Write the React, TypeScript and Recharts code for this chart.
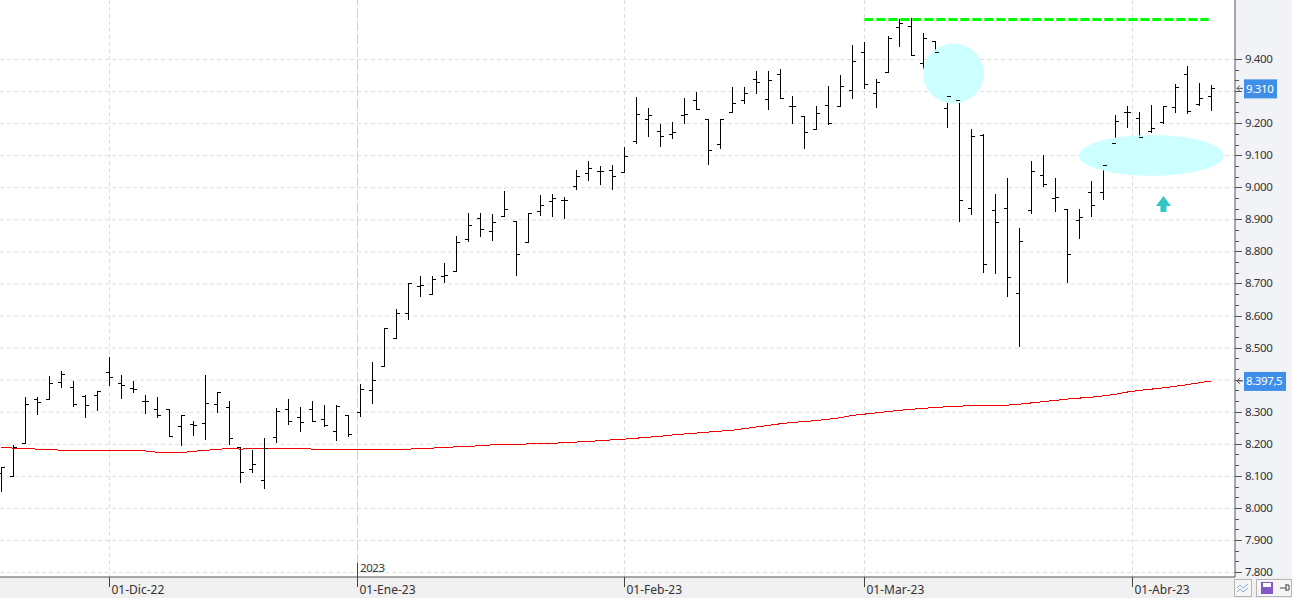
import React from 'react';
import {
  ComposedChart,
  Bar,
  Line,
  XAxis,
  YAxis,
  CartesianGrid,
  ReferenceDot,
  ReferenceLine,
} from 'recharts';

const opens = [8109, 8100, 8203, 8340, 8340, 8393, 8377, 8349, 8352, 8424, 8390, 8373, 8334, 8309, 8309, 8256, 8261, 8265, 8324, 8315, 8190, 8121, 8086, 8221, 8309, 8284, 8309, 8277, 8240, 8290, 8299, 8368, 8443, 8530, 8608, 8692, 8667, 8724, 8739, 8839, 8905, 8864, 8911, 8894, 8830, 8926, 8957, 8961, 9005, 9045, 9051, 9054, 9048, 9145, 9214, 9176, 9166, 9226, 9273, 9214, 9135, 9235, 9273, 9338, 9276, 9354, 9254, 9221, 9182, 9257, 9253, 9304, 9423, 9295, 9360, 9501, 9504, 9388, 9457, 9248, 9273, 8935, 9163, 8929, 8935, 8670, 8929, 9038, 8967, 8932, 8898, 8985, 8985, 9138, 9234, 9217, 9176, 9204, 9251, 9354, 9260, 9285];
const highs = [8128, 8199, 8346, 8346, 8412, 8428, 8397, 8355, 8366, 8472, 8416, 8396, 8355, 8346, 8309, 8292, 8271, 8416, 8362, 8334, 8193, 8181, 8218, 8312, 8340, 8315, 8334, 8321, 8321, 8290, 8387, 8456, 8561, 8621, 8702, 8725, 8724, 8764, 8851, 8921, 8921, 8917, 8989, 8894, 8920, 8977, 8980, 8970, 9056, 9083, 9067, 9070, 9126, 9283, 9248, 9198, 9204, 9280, 9298, 9214, 9215, 9313, 9313, 9363, 9363, 9370, 9285, 9223, 9254, 9317, 9351, 9445, 9454, 9338, 9473, 9526, 9529, 9482, 9457, 9298, 9273, 9183, 9169, 8982, 9029, 8873, 9085, 9101, 9029, 8932, 8935, 9020, 9076, 9227, 9254, 9236, 9257, 9254, 9323, 9379, 9326, 9320];
const lows = [8049, 8100, 8201, 8289, 8340, 8376, 8317, 8283, 8305, 8383, 8342, 8358, 8295, 8280, 8223, 8195, 8223, 8214, 8298, 8196, 8080, 8108, 8058, 8202, 8258, 8236, 8267, 8251, 8208, 8221, 8283, 8326, 8443, 8527, 8588, 8660, 8667, 8701, 8738, 8830, 8847, 8832, 8911, 8725, 8830, 8910, 8907, 8902, 8994, 9022, 9009, 8993, 9048, 9135, 9156, 9125, 9150, 9200, 9245, 9069, 9122, 9232, 9259, 9292, 9241, 9276, 9197, 9119, 9179, 9194, 9251, 9278, 9306, 9247, 9360, 9440, 9409, 9369, 9387, 9185, 8894, 8916, 8735, 8732, 8657, 8501, 8919, 9000, 8922, 8703, 8841, 8909, 8962, 9135, 9185, 9135, 9170, 9198, 9232, 9229, 9253, 9238];
const closes = [8128, 8190, 8325, 8331, 8390, 8418, 8323, 8321, 8365, 8409, 8384, 8370, 8334, 8290, 8224, 8290, 8258, 8327, 8361, 8218, 8112, 8137, 8187, 8302, 8271, 8268, 8270, 8258, 8318, 8231, 8371, 8399, 8561, 8608, 8702, 8695, 8714, 8727, 8830, 8883, 8870, 8892, 8933, 8792, 8920, 8945, 8967, 8959, 9036, 9061, 9051, 9036, 9098, 9230, 9226, 9160, 9173, 9229, 9245, 9117, 9213, 9263, 9295, 9329, 9335, 9279, 9253, 9173, 9232, 9201, 9317, 9395, 9322, 9329, 9466, 9513, 9413, 9466, 9423, 9285, 8960, 9160, 8761, 8892, 8720, 8832, 9051, 9010, 8970, 8792, 8907, 8945, 9070, 9207, 9234, 9158, 9186, 9254, 9314, 9238, 9279, 9310];
const movingAvg = [8190, 8188, 8186, 8185, 8185, 8181, 8179, 8179, 8179, 8179, 8179, 8179, 8179, 8175, 8174, 8174, 8178, 8181, 8184, 8187, 8185, 8186, 8187, 8187, 8187, 8187, 8185, 8184, 8184, 8184, 8184, 8184, 8184, 8184, 8185, 8186, 8188, 8190, 8192, 8193, 8196, 8198, 8199, 8200, 8201, 8202, 8203, 8205, 8207, 8209, 8211, 8214, 8216, 8219, 8222, 8225, 8229, 8232, 8235, 8238, 8241, 8244, 8249, 8254, 8259, 8264, 8268, 8271, 8274, 8278, 8283, 8290, 8294, 8298, 8302, 8306, 8309, 8312, 8315, 8317, 8319, 8320, 8321, 8321, 8322, 8325, 8329, 8333, 8337, 8341, 8344, 8347, 8351, 8356, 8363, 8368, 8372, 8376, 8381, 8386, 8392, 8397.5];

const monthSlots = [9, 29.67, 51.92, 71.92, 94.25];
const monthLabels = ['01-Dic-22', '01-Ene-23', '01-Feb-23', '01-Mar-23', '01-Abr-23'];
const gridSlots = [9, 51.92, 71.92, 94.25];
const yearSlot = 29.67;
const priceLabels = [7800, 7900, 8000, 8100, 8200, 8300, 8400, 8500, 8600, 8700, 8800, 8900, 9000, 9100, 9200, 9300, 9400];
// these two sit under the price tags, the platform leaves them out
const hiddenLabels = [8400, 9300];

const resistance = 9525;
const lastPrice = 9310;
const lastAvg = 8397.5;

// the platform loses a pixel of bar spacing at these two sessions
const slotOf = (i: number) => i - (i >= 20 ? 1 / 12 : 0) - (i >= 75 ? 1 / 12 : 0);

const bars = opens.map((open, i) => ({
  slot: slotOf(i),
  open,
  range: [lows[i], highs[i]],
  close: closes[i],
  avg: movingAvg[i],
}));

const yTicks: number[] = [];
for (let k = 0; k <= 48; k++) yTicks.push(7800 + (k * 100) / 3);

const WIDTH = 1292;
const HEIGHT = 598;
const AXIS_X = 1235;
const AXIS_Y = 577;
const FONT = '"Noto Sans", sans-serif';
const X_MIN = -0.125;
const X_MAX = 102.79;

const Wick = (p: any) => (
  <rect x={Math.floor(p.x + p.width / 2)} y={Math.round(p.y)} width={1} height={Math.round(p.height)} fill="#000" />
);

const OpenTick = (p: any) => (
  <rect key={p.index} x={Math.floor(p.cx) - 3} y={Math.floor(p.cy)} width={4} height={1} fill="#000" />
);

const CloseTick = (p: any) => (
  <rect key={p.index} x={Math.floor(p.cx)} y={Math.floor(p.cy)} width={4} height={1} fill="#000" />
);

const PriceTick = (p: any) => {
  const v = Math.round(p.payload.value);
  const major = priceLabels.indexOf(v) >= 0;
  return (
    <g>
      <line x1={AXIS_X} x2={AXIS_X + (major ? 7 : 4)} y1={Math.floor(p.y) + 0.5} y2={Math.floor(p.y) + 0.5} stroke="#555" />
      {major && hiddenLabels.indexOf(v) < 0 && (
        <text x={AXIS_X + 10} y={p.y + 3.5} fontSize={11.5} letterSpacing={-0.4} fontFamily={FONT} fill="#333">
          {v.toLocaleString('de-DE')}
        </text>
      )}
    </g>
  );
};

const MonthTick = (p: any) => {
  const x = Math.floor(p.x) + 0.5;
  return (
    <g>
      <line x1={x} x2={x} y1={AXIS_Y} y2={AXIS_Y + 10} stroke="#444" />
      <text x={x + 2} y={AXIS_Y + 17} fontSize={12} fontFamily={FONT} fill="#333">
        {monthLabels[p.index]}
      </text>
    </g>
  );
};

const PriceTag = ({ cx, cy, w, text }: any) => (
  <g>
    <path d={`M${cx + 2} ${cy}H${cx + 8}M${cx + 5} ${cy - 3}L${cx + 2} ${cy}L${cx + 5} ${cy + 3}`} stroke="#555" fill="none" />
    <rect x={cx + 9} y={cy - 9} width={w} height={19} fill="#3f8fe8" />
    <text x={cx + 11} y={cy + 4.5} fontSize={11.5} letterSpacing={-0.4} fontFamily={FONT} fill="#fff">
      {text}
    </text>
  </g>
);

const Blob = ({ cx, cy, rx, ry }: any) => <ellipse cx={cx} cy={cy} rx={rx} ry={ry} fill="#ccffff" />;

const UpArrow = ({ cx, cy }: any) => (
  <path
    d={`M${cx} ${cy - 8}L${cx + 7.5} ${cy + 2}H${cx + 3}V${cy + 8}H${cx - 3}V${cy + 2}H${cx - 7.5}Z`}
    fill="#33c6c6"
  />
);

export default function App() {
  return (
    <div style={{ position: 'absolute', left: 0, top: 0, width: WIDTH, height: HEIGHT, background: '#f0f0f0', overflow: 'hidden' }}>
      <div style={{ position: 'absolute', left: 0, top: 0, width: AXIS_X, height: AXIS_Y, background: '#fff' }} />
      <div style={{ position: 'absolute', left: AXIS_X, top: 0, width: WIDTH - AXIS_X, height: AXIS_Y, background: '#f2f3f7' }} />
      <div style={{ position: 'absolute', left: 0, top: 0 }}>
        <ComposedChart
          width={WIDTH}
          height={HEIGHT}
          data={bars}
          margin={{ top: 0, right: 0, bottom: 0, left: 0 }}
        >
          <ReferenceDot x={79.33} y={9356} r={30} ifOverflow="visible" shape={(p: any) => <Blob {...p} rx={30.5} ry={30} />} />
          <ReferenceDot x={95.82} y={9101} r={30} ifOverflow="visible" shape={(p: any) => <Blob {...p} rx={72} ry={20.5} />} />
          <CartesianGrid
            stroke="#dedede"
            strokeDasharray="4 3"
            horizontalValues={priceLabels}
            verticalValues={gridSlots}
          />
          <ReferenceLine x={yearSlot} stroke="#cfcfcf" strokeDasharray="10 3" />
          <XAxis
            type="number"
            dataKey="slot"
            domain={[X_MIN, X_MAX]}
            ticks={monthSlots}
            interval={0}
            height={HEIGHT - AXIS_Y}
            axisLine={{ stroke: '#555' }}
            tickLine={false}
            tick={MonthTick}
            allowDataOverflow
          />
          <YAxis
            orientation="right"
            domain={[7786, 9585.6]}
            ticks={yTicks}
            interval={0}
            width={WIDTH - AXIS_X}
            axisLine={{ stroke: '#555' }}
            tickLine={false}
            tick={PriceTick}
            allowDataOverflow
          />
          <Bar dataKey="range" barSize={1} shape={Wick} isAnimationActive={false} />
          <Line dataKey="open" stroke="none" dot={OpenTick} activeDot={false} isAnimationActive={false} />
          <Line dataKey="close" stroke="none" dot={CloseTick} activeDot={false} isAnimationActive={false} />
          <Line dataKey="avg" stroke="#f00000" strokeWidth={1} shapeRendering="crispEdges" dot={false} activeDot={false} isAnimationActive={false} />
          <ReferenceLine
            segment={[{ x: 71.9, y: resistance }, { x: 100.6, y: resistance }]}
            stroke="#00ff00"
            strokeWidth={3}
            strokeDasharray="9 3"
          />
          <ReferenceDot x={96.83} y={8949} r={8} ifOverflow="visible" shape={UpArrow} />
          <ReferenceDot x={X_MAX} y={lastPrice} r={8} ifOverflow="visible" shape={(p: any) => <PriceTag {...p} w={33} text="9.310" />} />
          <ReferenceDot x={X_MAX} y={lastAvg} r={8} ifOverflow="visible" shape={(p: any) => <PriceTag {...p} w={42} text="8.397,5" />} />
        </ComposedChart>
      </div>
      <div style={{ position: 'absolute', left: 357, top: 563, width: 1, height: 14, background: '#444' }} />
      <div style={{ position: 'absolute', left: 360, top: 561, fontSize: 11.5, letterSpacing: -0.4, fontFamily: FONT, color: '#333', lineHeight: '14px' }}>2023</div>
      <svg style={{ position: 'absolute', left: AXIS_X - 1, top: AXIS_Y + 1 }} width={WIDTH - AXIS_X + 1} height={HEIGHT - AXIS_Y - 1}>
        <rect x={0.5} y={1.5} width={17} height={17} fill="#f5f5f5" stroke="#b5b5b5" />
        <path d="M3 10l3-3 3 3 5-4M3 14l3-3 3 3 5-4" stroke="#7fb2dc" fill="none" />
        <rect x={22.5} y={1.5} width={35} height={17} fill="#f5f5f5" stroke="#b5b5b5" />
        <rect x={27} y={4} width={12} height={12} fill="#8458c4" />
        <rect x={29} y={5} width={8} height={4} fill="#fff" />
        <path d="M52 6v7M46 10h6M52 7h3v5h-3" stroke="#444" fill="none" />
      </svg>
    </div>
  );
}
